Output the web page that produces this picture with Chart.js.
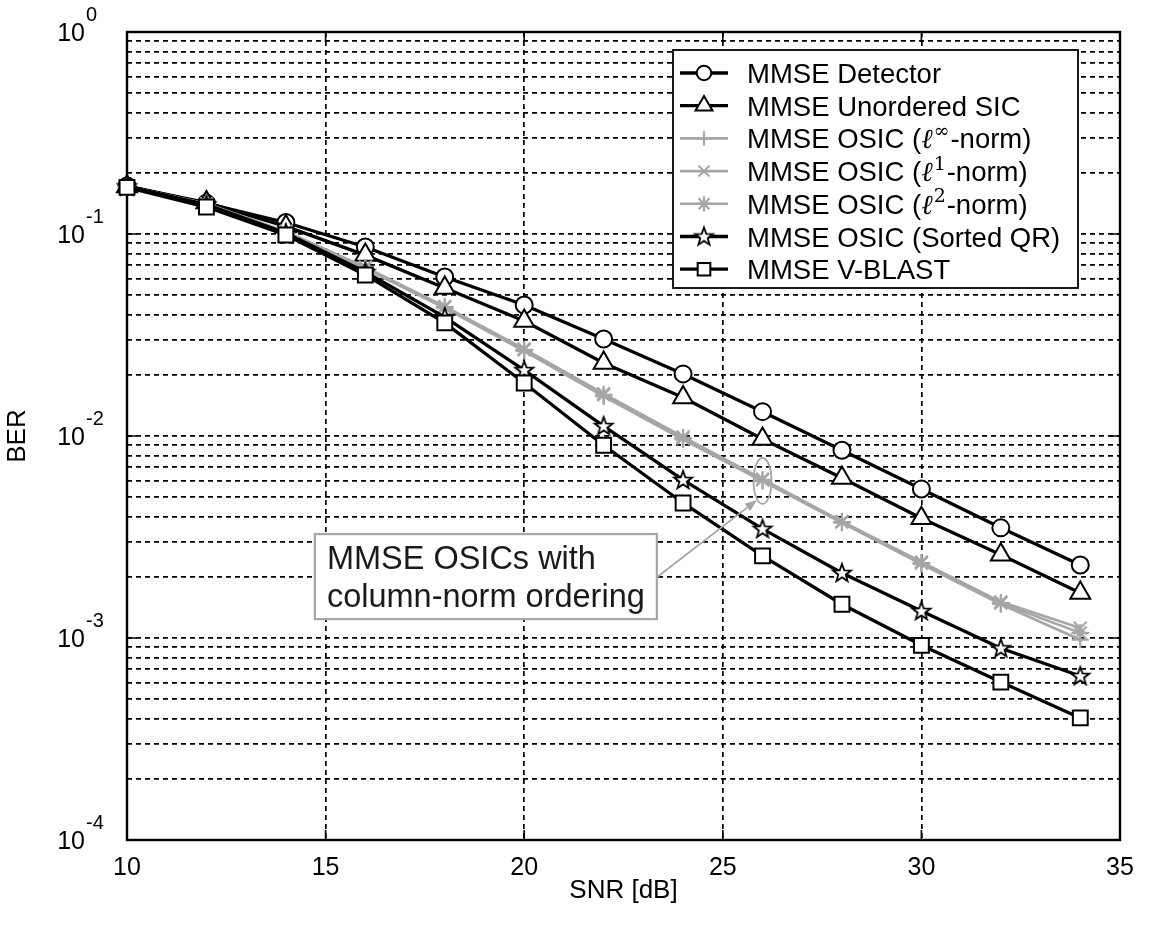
<!DOCTYPE html>
<html><head><meta charset="utf-8">
<script src="https://cdn.jsdelivr.net/npm/chart.js@4"></script>
<style>html,body{margin:0;padding:0;background:#fff;}</style>
</head><body>
<canvas id="c" width="1149" height="931"></canvas>
<script>
// ---------------- data ----------------
const snr = [10, 12, 14, 16, 18, 20, 22, 24, 26, 28, 30, 32, 34];
const berDetector  = [0.173, 0.142, 0.114, 0.0862, 0.0613, 0.0445, 0.0302, 0.0203, 0.0132, 0.0085, 0.00547, 0.00351, 0.0023];
const berUnordered = [0.172, 0.143, 0.109, 0.0786, 0.054, 0.0371, 0.023, 0.0155, 0.00966, 0.0062, 0.00392, 0.00258, 0.00167];
const berLinf      = [0.172, 0.140, 0.101, 0.0672, 0.0430, 0.0263, 0.0157, 0.0096, 0.00598, 0.00372, 0.00232, 0.00147, 0.00098];
const berL1        = [0.172, 0.141, 0.103, 0.0685, 0.0438, 0.0270, 0.0162, 0.0099, 0.00612, 0.00378, 0.00238, 0.00151, 0.00112];
const berL2        = [0.172, 0.141, 0.102, 0.0679, 0.0435, 0.0267, 0.0160, 0.00977, 0.00606, 0.00375, 0.00235, 0.00149, 0.00106];
const berSortedQR  = [0.172, 0.140, 0.101, 0.0648, 0.0388, 0.0212, 0.0112, 0.00606, 0.00347, 0.0021, 0.00136, 0.00089, 0.000648];
const berVBlast    = [0.170, 0.136, 0.0989, 0.0627, 0.0363, 0.0183, 0.009, 0.00466, 0.00255, 0.00147, 0.00092, 0.000605, 0.000402];
const seriesLabels = [
  'MMSE Detector',
  'MMSE Unordered SIC',
  'MMSE OSIC (ℓ^{∞}-norm)',
  'MMSE OSIC (ℓ^{1}-norm)',
  'MMSE OSIC (ℓ^{2}-norm)',
  'MMSE OSIC (Sorted QR)',
  'MMSE V-BLAST'
];
const xTicks = [10, 15, 20, 25, 30, 35];
const yExponents = [0, -1, -2, -3, -4];
const xTitle = 'SNR [dB]';
const yTitle = 'BER';
const annotationLines = ['MMSE OSICs with', 'column-norm ordering'];
// annotation anchors in data units
const annotBox = {x1: 14.73, x2: 23.34, y1: 0.00327, y2: 0.00124};
const annotEllipse = {x: 26, y: 0.00599};
const annotArrow = {x1: 23.34, y1: 0.00200, x2: 25.86, y2: 0.00482};

// ---------------- styles ----------------
const BLACK = '#000000';
const GRAY = '#a6a6a6';
const FONT = '"Liberation Sans", Arial, sans-serif';

function makeStar(){
  const c = document.createElement('canvas');
  c.width = 26; c.height = 26;
  const g = c.getContext('2d');
  const cx = 13, cy = 13.5, ro = 9.5, ri = 3.9;
  g.beginPath();
  for (let i = 0; i < 10; i++) {
    const r = i % 2 === 0 ? ro : ri;
    const a = -Math.PI / 2 + i * Math.PI / 5;
    const px = cx + r * Math.cos(a), py = cy + r * Math.sin(a);
    if (i === 0) g.moveTo(px, py); else g.lineTo(px, py);
  }
  g.closePath();
  g.fillStyle = '#fff'; g.fill();
  g.lineWidth = 1.8; g.strokeStyle = '#000'; g.lineJoin = 'miter'; g.stroke();
  return c;
}
const starImg = makeStar();

const styles = [
  {borderColor: BLACK, borderWidth: 3.3, pointStyle: 'circle', pointRadius: 8.5, pointBackgroundColor: '#fff', pointBorderColor: BLACK, pointBorderWidth: 2},
  {borderColor: BLACK, borderWidth: 3.3, pointStyle: 'triangle', pointRadius: 11.5, pointBackgroundColor: '#fff', pointBorderColor: BLACK, pointBorderWidth: 2},
  {borderColor: GRAY, borderWidth: 2.6, pointStyle: 'cross', pointRadius: 8.5, pointBackgroundColor: GRAY, pointBorderColor: GRAY, pointBorderWidth: 2.2},
  {borderColor: GRAY, borderWidth: 2.6, pointStyle: 'crossRot', pointRadius: 9, pointBackgroundColor: GRAY, pointBorderColor: GRAY, pointBorderWidth: 2.2},
  {borderColor: GRAY, borderWidth: 2.6, pointStyle: 'star', pointRadius: 9, pointBackgroundColor: GRAY, pointBorderColor: GRAY, pointBorderWidth: 2.2},
  {borderColor: BLACK, borderWidth: 3.3, pointStyle: starImg, pointRadius: 9, pointBackgroundColor: '#fff', pointBorderColor: BLACK, pointBorderWidth: 2},
  {borderColor: BLACK, borderWidth: 3.3, pointStyle: 'rect', pointRadius: 10.5, pointBackgroundColor: '#fff', pointBorderColor: BLACK, pointBorderWidth: 2}
];
const seriesData = [berDetector, berUnordered, berLinf, berL1, berL2, berSortedQR, berVBlast];

const datasets = seriesData.map((arr, i) => Object.assign({
  label: seriesLabels[i],
  data: snr.map((x, j) => ({x: x, y: arr[j]})),
  clip: false, tension: 0, fill: false, order: -i
}, styles[i]));

// ---------------- helpers ----------------
function drawRich(ctx, text, x, y, size){
  const parts = text.split(/(\^\{[^}]*\}|ℓ)/).filter(s => s.length);
  let cx = x;
  ctx.textAlign = 'left';
  ctx.textBaseline = 'alphabetic';
  for (const p of parts) {
    if (p.startsWith('^{')) {
      const t = p.slice(2, -1);
      ctx.font = Math.round(size * 0.7) + 'px "DejaVu Serif", serif';
      ctx.fillText(t, cx + 1, y - size * 0.42);
      cx += ctx.measureText(t).width + 2;
    } else if (p === 'ℓ') {
      ctx.font = 'italic ' + size + 'px "DejaVu Serif", serif';
      ctx.fillText(p, cx, y);
      cx += ctx.measureText(p).width;
    } else {
      ctx.font = size + 'px ' + FONT;
      ctx.fillText(p, cx, y);
      cx += ctx.measureText(p).width;
    }
  }
}

const framePlugin = {
  id: 'frame',
  beforeDatasetsDraw(chart){
    const {ctx, chartArea: ca} = chart;
    const ys = chart.scales.y, xs = chart.scales.x;
    ctx.save();
    ctx.strokeStyle = BLACK;
    ctx.lineWidth = 1.6;
    ctx.setLineDash([]);
    ctx.beginPath();
    yExponents.forEach(e => {
      const py = ys.getPixelForValue(Math.pow(10, e));
      ctx.moveTo(ca.left, py); ctx.lineTo(ca.left + 10, py);
      ctx.moveTo(ca.right, py); ctx.lineTo(ca.right - 10, py);
    });
    xTicks.forEach(v => {
      const px = xs.getPixelForValue(v);
      ctx.moveTo(px, ca.bottom); ctx.lineTo(px, ca.bottom - 10);
      ctx.moveTo(px, ca.top); ctx.lineTo(px, ca.top + 10);
    });
    ctx.stroke();
    ctx.lineWidth = 2.4;
    ctx.strokeRect(ca.left, ca.top, ca.right - ca.left, ca.bottom - ca.top);
    ctx.restore();
  },
  afterDraw(chart){
    const {ctx, chartArea: ca} = chart;
    const ys = chart.scales.y;
    ctx.save();
    ctx.fillStyle = BLACK;
    yExponents.forEach(e => {
      const py = ys.getPixelForValue(Math.pow(10, e));
      ctx.font = '25px ' + FONT;
      ctx.textAlign = 'right';
      ctx.textBaseline = 'alphabetic';
      ctx.fillText('10', ca.left - 42, py + 9);
      ctx.font = '20px ' + FONT;
      ctx.textAlign = 'left';
      ctx.fillText(String(e), ca.left - 41, py - 11);
    });
    ctx.restore();
  }
};

const annotationPlugin = {
  id: 'annot',
  afterDatasetsDraw(chart){
    const {ctx} = chart;
    const xs = chart.scales.x, ys = chart.scales.y;
    ctx.save();
    // ellipse
    const ex = xs.getPixelForValue(annotEllipse.x), ey = ys.getPixelForValue(annotEllipse.y);
    ctx.strokeStyle = GRAY; ctx.lineWidth = 1.8; ctx.setLineDash([]);
    ctx.beginPath(); ctx.ellipse(ex, ey, 9, 23, 0, 0, Math.PI * 2); ctx.stroke();
    // arrow
    const ax1 = xs.getPixelForValue(annotArrow.x1), ay1 = ys.getPixelForValue(annotArrow.y1);
    const ax2 = xs.getPixelForValue(annotArrow.x2), ay2 = ys.getPixelForValue(annotArrow.y2);
    const ang = Math.atan2(ay2 - ay1, ax2 - ax1);
    const hl = 12, hw = 4.5;
    ctx.beginPath();
    ctx.moveTo(ax1, ay1);
    ctx.lineTo(ax2 - hl * Math.cos(ang), ay2 - hl * Math.sin(ang));
    ctx.stroke();
    ctx.fillStyle = GRAY;
    ctx.beginPath();
    ctx.moveTo(ax2, ay2);
    ctx.lineTo(ax2 - hl * Math.cos(ang) + hw * Math.sin(ang), ay2 - hl * Math.sin(ang) - hw * Math.cos(ang));
    ctx.lineTo(ax2 - hl * Math.cos(ang) - hw * Math.sin(ang), ay2 - hl * Math.sin(ang) + hw * Math.cos(ang));
    ctx.closePath(); ctx.fill();
    // box
    const bx1 = xs.getPixelForValue(annotBox.x1), bx2 = xs.getPixelForValue(annotBox.x2);
    const by1 = ys.getPixelForValue(annotBox.y1), by2 = ys.getPixelForValue(annotBox.y2);
    ctx.fillStyle = '#fff';
    ctx.fillRect(bx1, by1, bx2 - bx1, by2 - by1);
    ctx.strokeStyle = GRAY; ctx.lineWidth = 2.2;
    ctx.strokeRect(bx1, by1, bx2 - bx1, by2 - by1);
    ctx.fillStyle = '#1a1a1a';
    ctx.font = '32.5px ' + FONT;
    ctx.textAlign = 'left'; ctx.textBaseline = 'alphabetic';
    ctx.fillText(annotationLines[0], bx1 + 12, by1 + 35);
    ctx.fillText(annotationLines[1], bx1 + 12, by1 + 73);
    ctx.restore();
  }
};

const legendPlugin = {
  id: 'customLegend',
  afterDraw(chart){
    const {ctx, chartArea: ca} = chart;
    const bx = ca.left + 546, by = ca.top + 18, bw = 405, bh = 238;
    ctx.save();
    ctx.fillStyle = '#fff';
    ctx.fillRect(bx, by, bw, bh);
    ctx.strokeStyle = BLACK; ctx.lineWidth = 1.8; ctx.setLineDash([]);
    ctx.strokeRect(bx, by, bw, bh);
    chart.data.datasets.forEach((ds, i) => {
      const ry = by + 23 + i * 32.7;
      ctx.strokeStyle = ds.borderColor;
      ctx.lineWidth = ds.borderWidth;
      ctx.beginPath(); ctx.moveTo(bx + 7, ry); ctx.lineTo(bx + 55, ry); ctx.stroke();
      ctx.fillStyle = ds.pointBackgroundColor;
      ctx.strokeStyle = ds.pointBorderColor;
      ctx.lineWidth = ds.pointBorderWidth;
      Chart.helpers.drawPoint(ctx, {pointStyle: ds.pointStyle, radius: ds.pointRadius * 0.85, borderWidth: ds.pointBorderWidth, rotation: 0}, bx + 31, ry);
      ctx.fillStyle = BLACK;
      drawRich(ctx, ds.label, bx + 74, ry + 10, 27.5);
    });
    ctx.restore();
  }
};

// ---------------- chart ----------------
new Chart(document.getElementById('c'), {
  type: 'line',
  data: {datasets: datasets},
  options: {
    responsive: false,
    animation: false,
    devicePixelRatio: 1,
    layout: {padding: {top: 32, right: 29, left: 0, bottom: 0}},
    plugins: {legend: {display: false}, tooltip: {enabled: false}},
    scales: {
      x: {
        type: 'linear', min: 10, max: 35,
        afterBuildTicks: s => { s.ticks = xTicks.map(v => ({value: v})); },
        afterFit: s => { s.height = 91; },
        grid: {color: BLACK, lineWidth: 1.7, drawTicks: false},
        border: {display: false, dash: [5, 4]},
        ticks: {font: {family: FONT, size: 25}, color: BLACK, padding: 13, maxRotation: 0, autoSkip: false},
        title: {display: true, text: xTitle, font: {family: FONT, size: 26}, color: BLACK, padding: {top: 0, bottom: 25}}
      },
      y: {
        type: 'logarithmic', min: 1e-4, max: 1,
        afterBuildTicks: s => {
          const t = [];
          for (let e = -4; e < 0; e++) for (let m = 1; m <= 9; m++) t.push({value: m * Math.pow(10, e)});
          t.push({value: 1});
          s.ticks = t;
        },
        afterFit: s => { s.width = 127; },
        grid: {color: BLACK, lineWidth: 1.7, drawTicks: false},
        border: {display: false, dash: [5, 4]},
        ticks: {display: false, autoSkip: false},
        title: {display: true, text: yTitle, font: {family: FONT, size: 26}, color: BLACK, padding: {top: 2, bottom: 0}}
      }
    }
  },
  plugins: [framePlugin, annotationPlugin, legendPlugin]
});
</script>
</body></html>
